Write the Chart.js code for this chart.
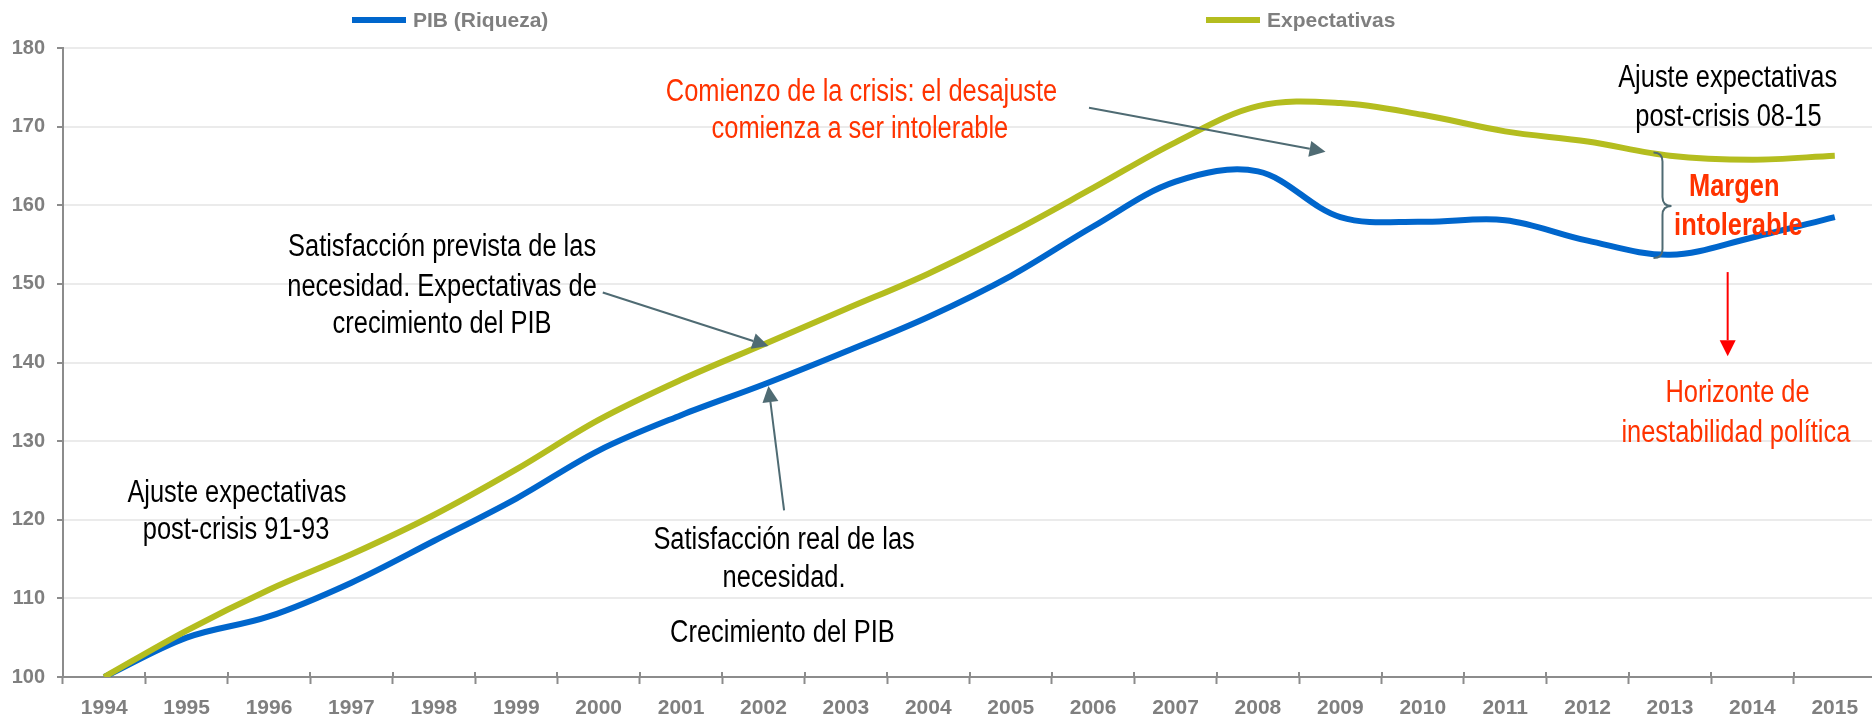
<!DOCTYPE html>
<html lang="es">
<head>
<meta charset="utf-8">
<title>PIB y expectativas</title>
<script src="https://cdn.jsdelivr.net/npm/chart.js@4.4.0/dist/chart.umd.min.js"></script>
<style>
  html, body { margin: 0; padding: 0; background: #fff; overflow: hidden; }
  #wrap { position: relative; width: 1880px; height: 721px; }
</style>
</head>
<body>
<div id="wrap"><canvas id="grafico"></canvas></div>
<script>
// Datos (indice 1994 = 100)
const anios = ['1994', '1995', '1996', '1997', '1998', '1999', '2000', '2001', '2002', '2003', '2004',
    '2005', '2006', '2007', '2008', '2009', '2010', '2011', '2012', '2013', '2014', '2015'];
const pib = [100, 105.0, 107.7, 112.0, 117.3, 122.7, 128.8, 133.3, 137.2, 141.4, 145.8,
    151.0, 157.3, 163.0, 164.3, 158.5, 157.9, 158.1, 155.5, 153.7, 155.9, 158.5];
const expectativas = [100, 105.9, 111.1, 115.6, 120.6, 126.4, 132.7, 137.8, 142.3, 146.8, 151.3,
    156.5, 162.2, 168.0, 172.6, 173.0, 171.5, 169.4, 168.1, 166.3, 165.8, 166.3];

const AZUL = '#0066cc';
const VERDE = '#b4bd1f';
const GRIS = '#7f7f7f';
const EJE = '#8c8c8c';
const ROJO = '#ff3300';
const PIZARRA = '#4f6b73';

const FUENTE = '"Liberation Sans", Arial, sans-serif';

// Textos del grafico (x = indice de año, y = valor del eje)
const notas = [
    { x: 9.19, y: 174.4, texto: 'Comienzo de la crisis: el desajuste', color: ROJO },
    { x: 9.17, y: 169.7, texto: 'comienza a ser intolerable', color: ROJO },
    { x: 4.10, y: 154.6, texto: 'Satisfacción prevista de las', color: '#000' },
    { x: 4.10, y: 149.6, texto: 'necesidad. Expectativas de', color: '#000' },
    { x: 4.10, y: 144.8, texto: 'crecimiento del PIB', color: '#000' },
    { x: 1.61, y: 123.4, texto: 'Ajuste expectativas', color: '#000' },
    { x: 1.60, y: 118.6, texto: 'post-crisis 91-93', color: '#000' },
    { x: 8.25, y: 117.4, texto: 'Satisfacción real de las', color: '#000' },
    { x: 8.25, y: 112.5, texto: 'necesidad.', color: '#000' },
    { x: 8.23, y: 105.6, texto: 'Crecimiento del PIB', color: '#000' },
    { x: 19.70, y: 176.1, texto: 'Ajuste expectativas', color: '#000' },
    { x: 19.71, y: 171.2, texto: 'post-crisis 08-15', color: '#000' },
    { x: 19.78, y: 162.3, texto: 'Margen', color: ROJO, negrita: true },
    { x: 19.83, y: 157.3, texto: 'intolerable', color: ROJO, negrita: true },
    { x: 19.82, y: 136.0, texto: 'Horizonte de', color: ROJO },
    { x: 19.80, y: 131.0, texto: 'inestabilidad política', color: ROJO }
];

const flechas = [
    { x1: 11.95, y1: 172.4, x2: 14.82, y2: 166.8, color: PIZARRA },
    { x1: 6.05, y1: 148.9, x2: 8.06, y2: 142.1, color: PIZARRA },
    { x1: 8.25, y1: 121.2, x2: 8.06, y2: 137.0, color: PIZARRA },
    { x1: 19.70, y1: 151.5, x2: 19.70, y2: 140.8, color: '#ff0000' }
];

// Llave entre las dos series (2012-2013)
const llave = { x: 18.80, arriba: 166.7, medio: 159.9, abajo: 153.3 };

function textoEstrecho(ctx, txt, x, y, negrita, color) {
    ctx.save();
    ctx.font = (negrita ? 'bold ' : '') + '31px ' + FUENTE;
    ctx.fillStyle = color;
    ctx.textAlign = 'center';
    ctx.textBaseline = 'middle';
    ctx.translate(x, y);
    ctx.scale(0.82, 1);
    ctx.fillText(txt, 0, 0);
    ctx.restore();
}

function flecha(ctx, x1, y1, x2, y2, color) {
    const ang = Math.atan2(y2 - y1, x2 - x1);
    const largo = 16, ancho = 8;
    const bx = x2 - largo * Math.cos(ang);
    const by = y2 - largo * Math.sin(ang);
    ctx.save();
    ctx.strokeStyle = color;
    ctx.fillStyle = color;
    ctx.lineWidth = 2;
    ctx.beginPath();
    ctx.moveTo(x1, y1);
    ctx.lineTo(bx, by);
    ctx.stroke();
    ctx.beginPath();
    ctx.moveTo(x2, y2);
    ctx.lineTo(bx + ancho * Math.sin(ang), by - ancho * Math.cos(ang));
    ctx.lineTo(bx - ancho * Math.sin(ang), by + ancho * Math.cos(ang));
    ctx.closePath();
    ctx.fill();
    ctx.restore();
}

const anotaciones = {
    id: 'anotaciones',
    afterDraw(chart) {
        const ctx = chart.ctx;
        const sx = chart.scales.x;
        const sy = chart.scales.y;

        // Marcas del eje X que cruzan la linea (como en Excel)
        ctx.save();
        ctx.strokeStyle = EJE;
        ctx.lineWidth = 2;
        for (let i = 1; i < anios.length; i++) {
            const px = Math.round(sx.getPixelForValue(i - 0.5));
            ctx.beginPath();
            ctx.moveTo(px, sx.top - 5);
            ctx.lineTo(px, sx.top);
            ctx.stroke();
        }
        ctx.restore();

        // Leyenda
        ctx.save();
        ctx.font = 'bold 21px ' + FUENTE;
        ctx.textBaseline = 'middle';
        ctx.textAlign = 'left';
        const posLeyenda = [352, 1206];
        chart.data.datasets.forEach((ds, i) => {
            const x0 = posLeyenda[i];
            ctx.fillStyle = ds.borderColor;
            ctx.fillRect(x0, 17, 54, 6);
            ctx.fillStyle = GRIS;
            ctx.fillText(ds.label, x0 + 61, 21);
        });
        ctx.restore();

        notas.forEach(n => {
            textoEstrecho(ctx, n.texto, sx.getPixelForValue(n.x), sy.getPixelForValue(n.y), n.negrita, n.color);
        });

        flechas.forEach(f => {
            flecha(ctx, sx.getPixelForValue(f.x1), sy.getPixelForValue(f.y1),
                sx.getPixelForValue(f.x2), sy.getPixelForValue(f.y2), f.color);
        });

        // Llave
        const x0 = sx.getPixelForValue(llave.x);
        const yt = sy.getPixelForValue(llave.arriba);
        const ym = sy.getPixelForValue(llave.medio);
        const yb = sy.getPixelForValue(llave.abajo);
        const r = 9;
        ctx.save();
        ctx.strokeStyle = PIZARRA;
        ctx.lineWidth = 2;
        ctx.beginPath();
        ctx.moveTo(x0, yt);
        ctx.quadraticCurveTo(x0 + r, yt, x0 + r, yt + r);
        ctx.lineTo(x0 + r, ym - r);
        ctx.quadraticCurveTo(x0 + r, ym, x0 + 2 * r, ym);
        ctx.quadraticCurveTo(x0 + r, ym, x0 + r, ym + r);
        ctx.lineTo(x0 + r, yb - r);
        ctx.quadraticCurveTo(x0 + r, yb, x0, yb);
        ctx.stroke();
        ctx.restore();
    }
};

new Chart(document.getElementById('grafico'), {
    type: 'line',
    data: {
        labels: anios,
        datasets: [{
            label: 'PIB (Riqueza)',
            data: pib,
            borderColor: AZUL,
            borderWidth: 6,
            pointRadius: 0,
            tension: 0.35,
            order: 2
        }, {
            label: 'Expectativas',
            data: expectativas,
            borderColor: VERDE,
            borderWidth: 6,
            pointRadius: 0,
            tension: 0.35,
            order: 1
        }]
    },
    options: {
        responsive: true,
        maintainAspectRatio: false,
        animation: false,
        devicePixelRatio: 1,
        layout: {
            padding: { top: 48, right: 4, left: 0, bottom: 0 }
        },
        plugins: {
            legend: { display: false },
            tooltip: { enabled: false }
        },
        scales: {
            x: {
                offset: true,
                afterFit: scale => { scale.height = 44; },
                grid: {
                    display: true,
                    offset: true,
                    drawOnChartArea: false,
                    tickColor: EJE,
                    tickWidth: 2,
                    tickLength: 7
                },
                border: { color: EJE, width: 2 },
                ticks: {
                    color: GRIS,
                    padding: 12,
                    maxRotation: 0,
                    autoSkip: false,
                    font: { family: FUENTE, size: 21, weight: 'bold' }
                }
            },
            y: {
                min: 100,
                max: 180,
                afterFit: scale => { scale.width = 63; },
                grid: {
                    color: '#ebebeb',
                    lineWidth: 2,
                    tickColor: EJE,
                    tickWidth: 2,
                    tickLength: 6
                },
                border: { color: EJE, width: 2 },
                ticks: {
                    stepSize: 10,
                    color: GRIS,
                    padding: 12,
                    font: { family: FUENTE, size: 20, weight: 'bold' }
                }
            }
        }
    },
    plugins: [anotaciones]
});
</script>
</body>
</html>
